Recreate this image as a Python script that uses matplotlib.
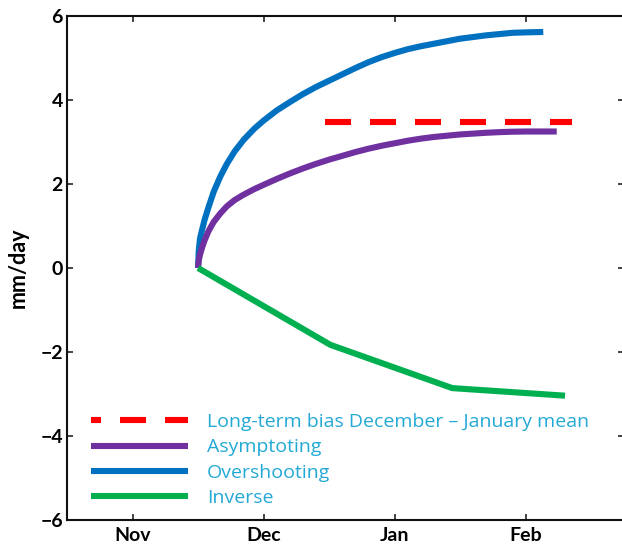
import matplotlib
matplotlib.use("Agg")
import matplotlib.pyplot as plt
from matplotlib.lines import Line2D

# Month axis: Nov = 0, Dec = 1, Jan = 2, Feb = 3
month_ticks = [0, 1, 2, 3]
month_labels = ["Nov", "Dec", "Jan", "Feb"]
y_ticks = [-6, -4, -2, 0, 2, 4, 6]

# Overshooting response
over_x = [0.500, 0.505, 0.515, 0.53, 0.55, 0.58, 0.62, 0.67, 0.72, 0.78,
          0.85, 0.93, 1.00, 1.10, 1.20, 1.30, 1.40, 1.50, 1.60, 1.70,
          1.80, 1.90, 2.00, 2.10, 2.20, 2.30, 2.40, 2.50, 2.60, 2.70,
          2.80, 2.90, 3.00, 3.134]
over_y = [0.00, 0.40, 0.70, 0.90, 1.15, 1.45, 1.82, 2.18, 2.48, 2.78,
          3.06, 3.32, 3.51, 3.75, 3.95, 4.14, 4.31, 4.46, 4.61, 4.76,
          4.90, 5.02, 5.12, 5.21, 5.28, 5.34, 5.40, 5.46, 5.50, 5.54,
          5.57, 5.60, 5.61, 5.62]

# Asymptoting response
asym_x = [0.500, 0.505, 0.515, 0.53, 0.55, 0.58, 0.62, 0.67, 0.72, 0.78,
          0.85, 0.93, 1.00, 1.10, 1.20, 1.30, 1.40, 1.50, 1.60, 1.70,
          1.80, 1.90, 2.00, 2.10, 2.20, 2.30, 2.40, 2.50, 2.60, 2.70,
          2.80, 2.90, 3.00, 3.237]
asym_y = [0.00, 0.18, 0.32, 0.48, 0.66, 0.88, 1.10, 1.30, 1.47, 1.62,
          1.75, 1.88, 1.98, 2.12, 2.25, 2.37, 2.48, 2.58, 2.67, 2.76,
          2.84, 2.91, 2.97, 3.03, 3.08, 3.12, 3.15, 3.18, 3.20, 3.22,
          3.235, 3.245, 3.25, 3.25]

# Inverse response
inv_x = [0.50, 1.51, 2.44, 3.30]
inv_y = [0.00, -1.83, -2.86, -3.04]

# Long-term bias, December-January mean
bias_x = [1.47, 3.35]
bias_y = [3.47, 3.47]

legend_labels = ["Long-term bias December \u2013 January mean",
                 "Asymptoting", "Overshooting", "Inverse"]

RED = "#FF0000"
PURPLE = "#7030A0"
BLUE = "#0070C0"
GREEN = "#00B050"
TEXT_BLUE = "#22A9D5"

LW = 4.4
PX = 0.72  # points per pixel at 100 dpi
ON, OFF = 26 * PX / LW, 19 * PX / LW
DASH = (0, (ON, OFF))

fig = plt.figure(figsize=(6.22, 5.49), dpi=100)
ax = fig.add_axes([67 / 622, 29 / 549, 557 / 622, 504 / 549])

ax.plot(over_x, over_y, color=BLUE, lw=LW, solid_capstyle="butt")
ax.plot(asym_x, asym_y, color=PURPLE, lw=LW, solid_capstyle="butt")
ax.plot(inv_x, inv_y, color=GREEN, lw=LW, solid_capstyle="butt",
        solid_joinstyle="miter")
ax.plot(bias_x, bias_y, color=RED, lw=LW, linestyle=DASH,
        dash_capstyle="butt")

ax.set_xlim(-0.5, 3.75)
ax.set_ylim(-6, 6)
ax.set_xticks(month_ticks)
ax.set_xticklabels(month_labels)
ax.set_yticks(y_ticks)
ax.set_yticklabels([f"{v}".replace("-", "\u2212") for v in y_ticks])

for lab in ax.get_xticklabels() + ax.get_yticklabels():
    lab.set_fontfamily("Lato")
    lab.set_fontweight("bold")
    lab.set_fontsize(14)

ax.tick_params(direction="in", top=True, right=True, length=4, width=1.1,
               color="#111111", pad=3)
ax.tick_params(axis="x", pad=5)
for sp in ax.spines.values():
    sp.set_linewidth(1.5)
    sp.set_color("#111111")

ax.set_ylabel("mm/day", family="Lato", weight="bold", size=15.5, labelpad=8)

handles = [
    Line2D([], [], color=RED, lw=LW,
           linestyle=(16 * PX / LW, (ON, OFF)), dash_capstyle="butt"),
    Line2D([], [], color=PURPLE, lw=LW, solid_capstyle="butt"),
    Line2D([], [], color=BLUE, lw=LW, solid_capstyle="butt"),
    Line2D([], [], color=GREEN, lw=LW, solid_capstyle="butt"),
]
leg = ax.legend(handles, legend_labels, loc="upper left",
                bbox_to_anchor=(91 / 622, 1 - 413 / 549),
                bbox_transform=fig.transFigure, frameon=False,
                borderpad=0, borderaxespad=0, handlelength=5.0,
                handletextpad=0.95, labelspacing=0.38,
                prop=dict(family="Open Sans", size=14))
for t in leg.get_texts():
    t.set_color(TEXT_BLUE)

fig.savefig("out.png", dpi=100)
